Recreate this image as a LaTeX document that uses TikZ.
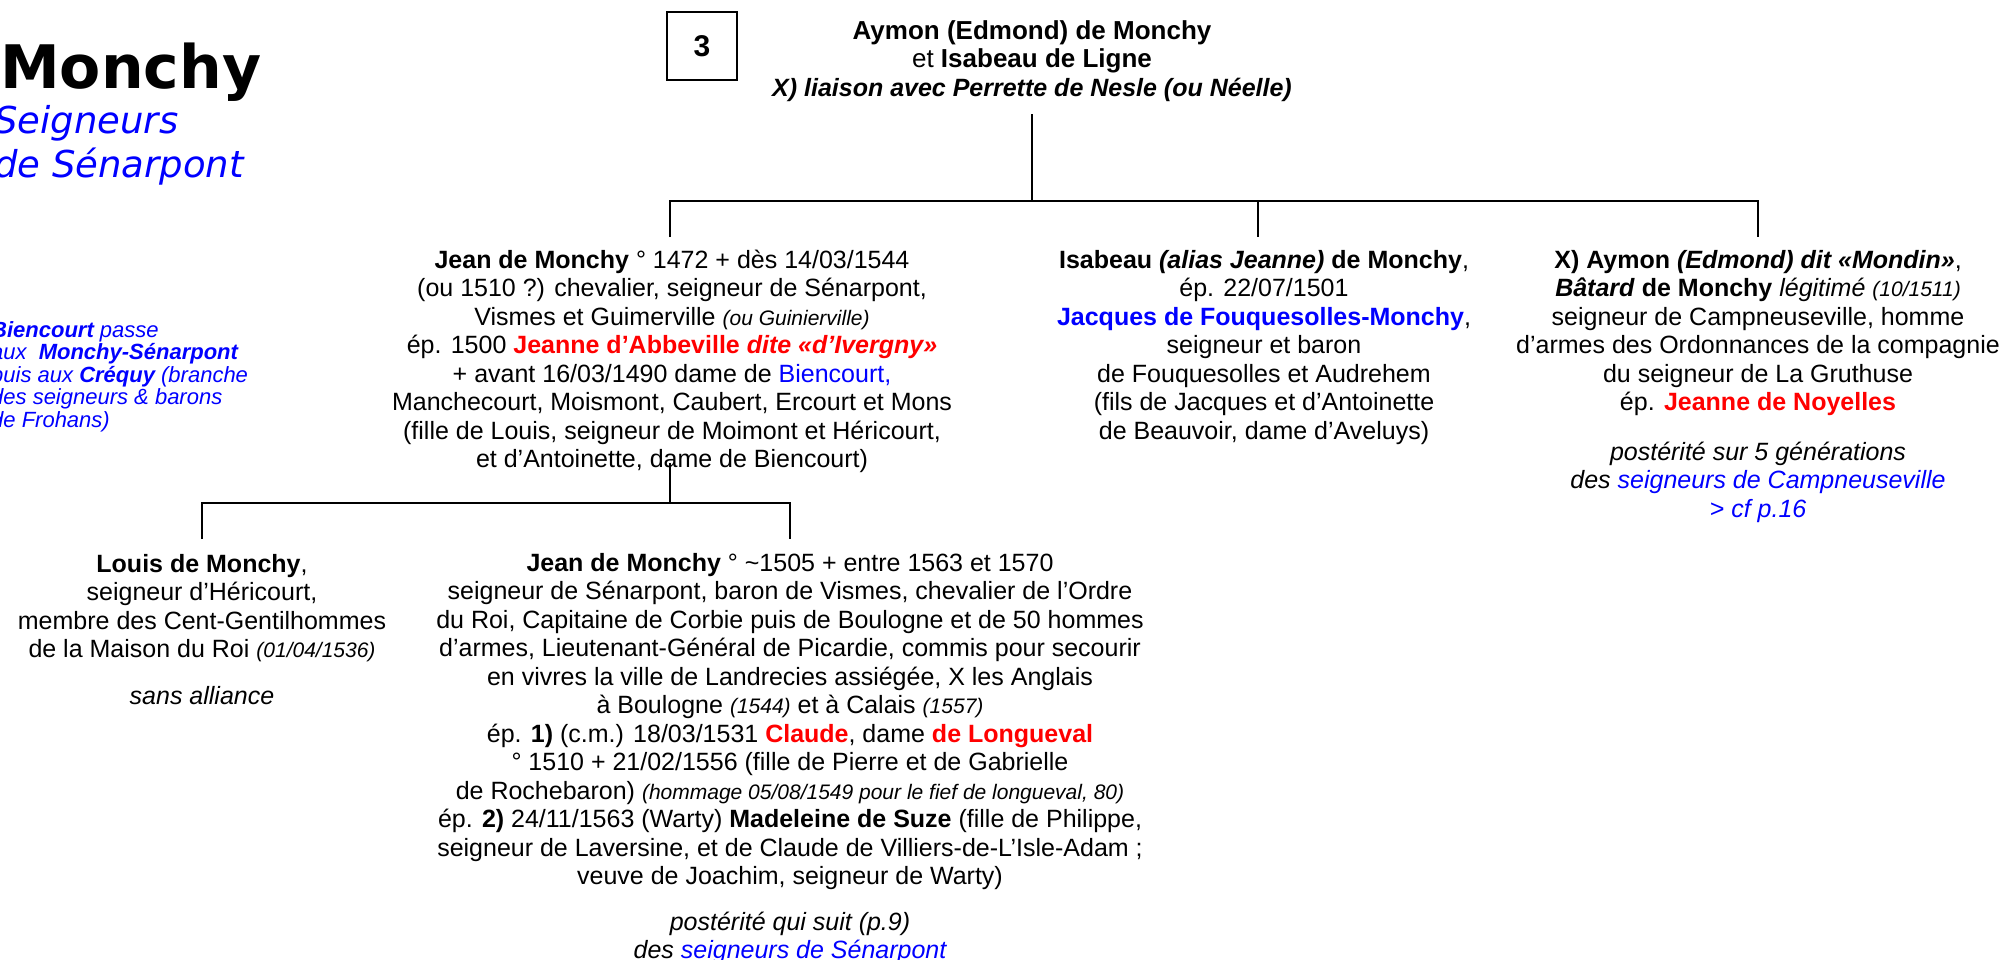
\documentclass[tikz,border=0pt]{standalone}
\usepackage{fontspec}
\setmainfont{Liberation Sans}
\newfontfamily\titlefont{DejaVu Sans}
\usetikzlibrary{positioning}
\definecolor{nomrouge}{RGB}{255,0,0}
\definecolor{nombleu}{RGB}{0,0,255}
\newcommand\rouge[1]{\textcolor{nomrouge}{#1}}
\newcommand\bleu[1]{\textcolor{nombleu}{#1}}
\newcommand\petit[1]{{\fontsize{21}{28.5}\selectfont\itshape #1}}

\begin{document}
\begin{tikzpicture}[x=1pt,y=-1pt,
  every node/.style={inner sep=0pt,font=\fontsize{25}{28.5}\selectfont},
  bloc/.style={align=center,anchor=base},
  lien/.style={line width=2.7pt}]
\useasboundingbox (0,0) rectangle (2009,959);
% titre (base = last line)
\node[anchor=base west] (titre) at (0,88) {\titlefont\fontsize{60}{70}\selectfont\bfseries Monchy};
\node[anchor=base west,align=left,text=nombleu,font=\titlefont\fontsize{37}{44}\selectfont\itshape] (soustitre) at (-6,177) {Seigneurs\\de Sénarpont};
\node[anchor=base west,align=left,text=nombleu,font=\fontsize{22}{22.5}\selectfont\itshape] (note) at (-9,427) {\textbf{Biencourt} passe\\aux\hspace{6pt} \textbf{Monchy-Sénarpont}\\puis aux \textbf{Créquy} (branche\\des seigneurs \& barons\\de Frohans)};
\node[draw,line width=1.2pt,minimum width=70pt,minimum height=68pt,font=\fontsize{30}{30}\selectfont\bfseries] (numero) at (702,46) {3};
% generation 1
\node[bloc,font=\fontsize{26}{28.5}\selectfont] (parents) at (1032,96) {\textbf{Aymon (Edmond) de Monchy}\\et \textbf{Isabeau de Ligne}\\{\fontsize{25}{28.5}\selectfont\bfseries\itshape X) liaison avec Perrette de Nesle (ou Néelle)}};
% generation 2
\node[bloc] (jean1) at (672,467.5) {\textbf{Jean de Monchy} ° 1472 + dès 14/03/1544\\
  (ou 1510 ?) chevalier, seigneur de Sénarpont,\\
  Vismes et Guimerville \petit{(ou Guinierville)}\\
  ép. 1500 \rouge{\textbf{Jeanne d’Abbeville \textit{dite «d’Ivergny»}}}\\
  + avant 16/03/1490 dame de \bleu{Biencourt,}\\
  Manchecourt, Moismont, Caubert, Ercourt et Mons\\
  (fille de Louis, seigneur de Moimont et Héricourt,\\
  et d’Antoinette, dame de Biencourt)};
\node[bloc] (isabeau) at (1264,439) {\textbf{Isabeau \textit{(alias Jeanne)} de Monchy},\\
  ép. 22/07/1501\\
  \bleu{\textbf{Jacques de Fouquesolles-Monchy}},\\
  seigneur et baron\\
  de Fouquesolles et Audrehem\\
  (fils de Jacques et d’Antoinette\\
  de Beauvoir, dame d’Aveluys)};
\node[bloc] (aymon) at (1758,517) {\textbf{X) Aymon \textit{(Edmond) dit «Mondin»}},\\
  \textbf{\textit{Bâtard} de Monchy} \textit{légitimé} \petit{(10/1511)}\\
  seigneur de Campneuseville, homme\\
  d’armes des Ordonnances de la compagnie\\
  du seigneur de La Gruthuse\\
  ép. \rouge{\textbf{Jeanne de Noyelles}}\\[21pt]
  \textit{postérité sur 5 générations}\\
  \textit{des \bleu{seigneurs de Campneuseville}}\\
  \bleu{\textit{> cf p.16}}};
% generation 3
\node[bloc] (louis) at (202,704) {\textbf{Louis de Monchy},\\
  seigneur d’Héricourt,\\
  membre des Cent-Gentilhommes\\
  de la Maison du Roi \petit{(01/04/1536)}\\[18pt]
  \textit{sans alliance}};
\node[bloc] (jean2) at (790,958.5) {\textbf{Jean de Monchy} ° \textasciitilde1505 + entre 1563 et 1570\\
  seigneur de Sénarpont, baron de Vismes, chevalier de l’Ordre\\
  du Roi, Capitaine de Corbie puis de Boulogne et de 50 hommes\\
  d’armes, Lieutenant-Général de Picardie, commis pour secourir\\
  en vivres la ville de Landrecies assiégée, X les Anglais\\
  à Boulogne \petit{(1544)} et à Calais \petit{(1557)}\\
  ép. \textbf{1)} (c.m.) 18/03/1531 \rouge{\textbf{Claude}}, dame \rouge{\textbf{de Longueval}}\\
  ° 1510 + 21/02/1556 (fille de Pierre et de Gabrielle\\
  de Rochebaron) \petit{(hommage 05/08/1549 pour le fief de longueval, 80)}\\
  ép. \textbf{2)} 24/11/1563 (Warty) \textbf{Madeleine de Suze} (fille de Philippe,\\
  seigneur de Laversine, et de Claude de Villiers-de-L’Isle-Adam ;\\
  veuve de Joachim, seigneur de Warty)\\[17pt]
  \textit{postérité qui suit (p.9)}\\
  \textit{des \bleu{seigneurs de Sénarpont}}};
% liens
\coordinate (fourche) at (1032,201);
\coordinate (pied1) at (670,237);
\coordinate (pied2) at (1258,237);
\coordinate (pied3) at (1758,237);
\draw[lien,shorten <=13pt] (parents.south) -- (fourche);
\draw[lien] (pied1) |- (fourche) -| (pied3);
\draw[lien] (pied2 |- fourche) -- (pied2);
\coordinate (fourche2) at (670,503);
\coordinate (pied4) at (202,539);
\coordinate (pied5) at (790,539);
\draw[lien] ([yshift=10pt]jean1.south -| fourche2) -- (fourche2);
\draw[lien] (pied4) |- (fourche2) -| (pied5);
\end{tikzpicture}
\end{document}
